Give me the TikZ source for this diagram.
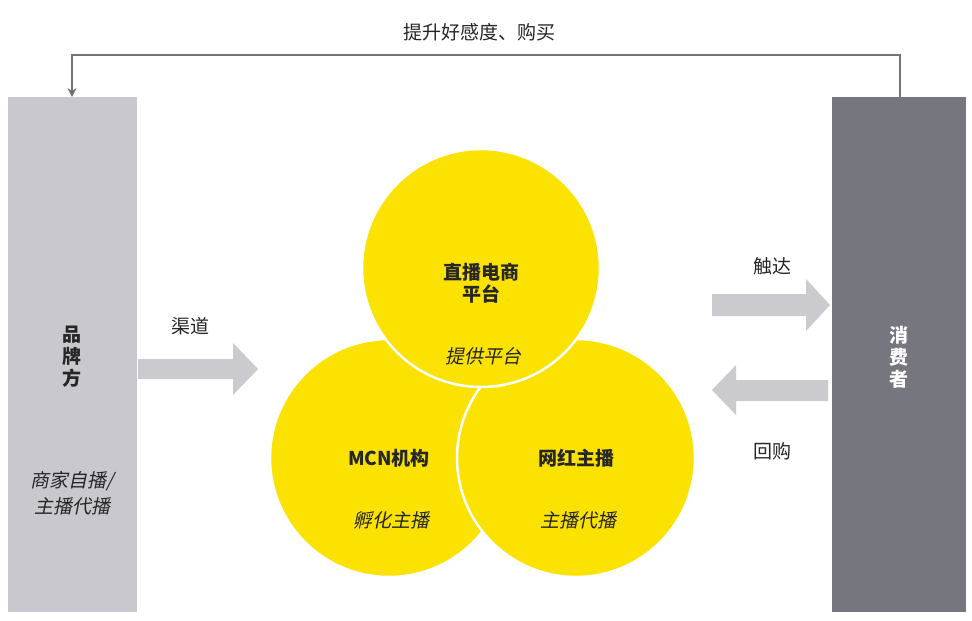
\documentclass[tikz,border=0pt]{standalone}
\usepackage{fontspec}
\usetikzlibrary{arrows.meta}
\setmainfont{Noto Sans CJK SC}
\newfontfamily\cjkit[FakeSlant=0.2]{Noto Sans CJK SC}
\begin{document}
\begin{tikzpicture}[x=1pt,y=-1pt,
  lbl/.style={font=\fontsize{19}{22}\selectfont,text=black!85},
  bld/.style={font=\fontsize{19}{22}\selectfont\bfseries,text=black!85},
  itl/.style={font=\fontsize{19}{22}\selectfont\cjkit,text=black!85},
  circ/.style={fill=ycol,draw=white,line width=2.5pt},
  barr/.style={fill=agray,draw=none}]
\definecolor{ycol}{HTML}{FBE200}
\definecolor{lgray}{HTML}{C8C8CE}
\definecolor{dgray}{HTML}{76767E}
\definecolor{agray}{HTML}{CACACF}
\useasboundingbox (0,0) rectangle (972,621);
\fill[white] (0,0) rectangle (972,621);
\fill[lgray] (8,97) rectangle (137,612);
\fill[dgray] (832,97) rectangle (966,612);
\coordinate (ltop) at (72,97);
\coordinate (rtop) at (900,97);
\draw[gray!90!black,line width=2pt,-{Stealth[length=9pt,width=9pt]}] (rtop) -- (900,55) -- (72,55) -- (ltop);
\node[lbl] (fb) at (479,32) {提升好感度、购买};
\node[circ,circle,minimum size=238pt] (mcn) at (389,458) {};
\node[circ,circle,minimum size=238pt] (wh) at (576,458) {};
\node[circ,circle,minimum size=238pt] (pt) at (481,268) {};
\node[bld,align=center] (pt1) at (481,283) {直播电商\\平台};
\node[itl] (pt2) at (483,356) {提供平台};
\node[bld] (mcn1) at (389,458) {MCN机构};
\node[itl] (mcn2) at (391,520) {孵化主播};
\node[bld] (wh1) at (576,458) {网红主播};
\node[itl] (wh2) at (578,520) {主播代播};
\node[bld,align=center] (pp) at (72,357) {品\\牌\\方};
\node[itl,align=center] (pp2) at (72,493) {商家自播/\\[4pt]主播代播};
\node[bld,align=center,text=white] (xf) at (899,357) {消\\费\\者};
% arrows
\fill[barr] (138,359) -- (233,359) -- (233,343) -- (258,369) -- (233,395) -- (233,379) -- (138,379) -- cycle;
\node[lbl] (qd) at (190,326) {渠道};
\fill[barr] (712,294) -- (806,294) -- (806,279) -- (830,305) -- (806,331) -- (806,316) -- (712,316) -- cycle;
\node[lbl] (cd) at (772,266) {触达};
\fill[barr] (828,380) -- (736,380) -- (736,365) -- (712,390) -- (736,415) -- (736,401) -- (828,401) -- cycle;
\node[lbl] (hg) at (772,451) {回购};
\end{tikzpicture}
\end{document}
